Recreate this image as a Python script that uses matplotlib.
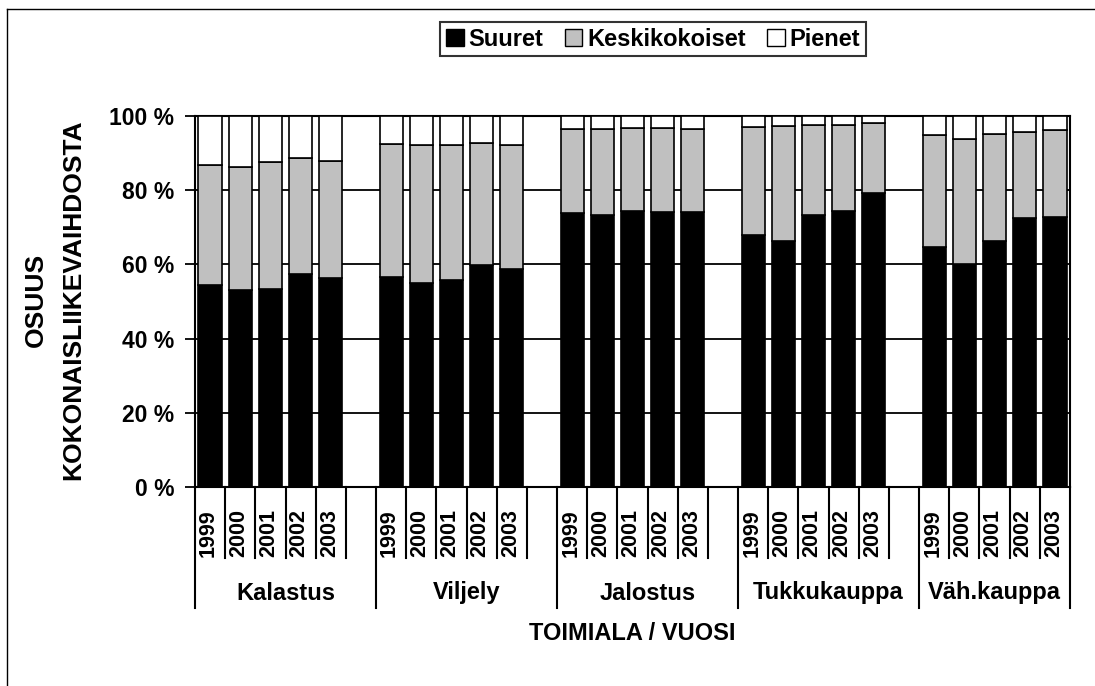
import matplotlib
matplotlib.use("Agg")
import matplotlib.pyplot as plt
from matplotlib.lines import Line2D
from matplotlib.transforms import blended_transform_factory
import numpy as np

plt.rcParams['font.family'] = ['Liberation Sans', 'DejaVu Sans']
plt.rcParams['font.weight'] = 'bold'

# toimialat ja vuodet
toimialat = ["Kalastus", "Viljely", "Jalostus", "Tukkukauppa", "Väh.kauppa"]
vuodet = ["1999", "2000", "2001", "2002", "2003"]

# osuudet (%) toimialoittain, vuodet 1999-2003
suuret = [
    [54.5, 53.2, 53.4, 57.5, 56.4],
    [56.7, 55.1, 55.9, 59.9, 58.8],
    [73.9, 73.4, 74.3, 74.2, 74.2],
    [67.8, 66.3, 73.4, 74.3, 79.3],
    [64.6, 60.1, 66.2, 72.6, 72.7],
]
keskikokoiset = [
    [32.3, 33.1, 34.1, 31.1, 31.6],
    [35.7, 37.0, 36.4, 32.9, 33.5],
    [22.5, 23.1, 22.5, 22.6, 22.4],
    [29.3, 31.0, 24.3, 23.3, 18.7],
    [30.3, 33.7, 28.9, 23.2, 23.5],
]
pienet = [
    [13.2, 13.7, 12.5, 11.4, 12.0],
    [7.6, 7.9, 7.7, 7.2, 7.7],
    [3.6, 3.5, 3.2, 3.2, 3.4],
    [2.9, 2.7, 2.3, 2.4, 2.0],
    [5.1, 6.2, 4.9, 4.2, 3.8],
]

fig = plt.figure(figsize=(10.95, 6.86), dpi=100)
W, H = 1095, 686
ax = fig.add_axes([195 / W, (H - 487) / H, (1070 - 195) / W, (487 - 116) / H])

# paikat: 5 palkkia + tyhjä väli jokaisen toimialan jälkeen (viimeistä lukuun ottamatta)
nv = len(vuodet)
paikat = []
for g in range(len(toimialat)):
    paikat.append([g * (nv + 1) + i for i in range(nv)])
nslots = len(toimialat) * (nv + 1) - 1

lw = 1.2
for g in range(len(toimialat)):
    x = paikat[g]
    s = np.array(suuret[g])
    k = np.array(keskikokoiset[g])
    p = np.array(pienet[g])
    ax.bar(x, s, width=0.77, color="black", edgecolor="black", linewidth=lw, zorder=3,
           label="Suuret" if g == 0 else None)
    ax.bar(x, k, bottom=s, width=0.77, color="#C0C0C0", edgecolor="black", linewidth=lw, zorder=3,
           label="Keskikokoiset" if g == 0 else None)
    ax.bar(x, p, bottom=s + k, width=0.77, color="white", edgecolor="black", linewidth=lw, zorder=3,
           label="Pienet" if g == 0 else None)

ax.set_xlim(-0.5, nslots - 0.5)
ax.set_ylim(0, 100)
ax.set_yticks([0, 20, 40, 60, 80, 100])
ax.set_yticklabels(["0 %", "20 %", "40 %", "60 %", "80 %", "100 %"], fontsize=16.5, fontweight="bold")
ax.tick_params(axis="y", length=7, width=1.3, pad=8, direction="out")
ax.set_xticks([])
ax.yaxis.grid(True, color="black", linewidth=1.3, zorder=1)
ax.set_axisbelow(True)
for sp in ax.spines.values():
    sp.set_linewidth(1.5)
    sp.set_color("black")

# monitasoinen x-akseli
tr = blended_transform_factory(ax.transData, ax.transAxes)
def yfr(ypx):
    return (487 - ypx) / (487 - 116)

for g in range(len(toimialat)):
    x = paikat[g]
    left = x[0] - 0.5
    right = x[-1] + 0.5 if g == len(toimialat) - 1 else x[-1] + 1.5
    ax.add_line(Line2D([left, left], [0, yfr(608)], transform=tr, color="black", lw=1.5, clip_on=False))
    for i, xi in enumerate(x):
        if i > 0:
            ax.add_line(Line2D([xi - 0.5, xi - 0.5], [0, yfr(558)], transform=tr, color="black",
                               lw=1.5, clip_on=False))
        ax.text(xi - 0.05, yfr(533), vuodet[i], transform=tr, rotation=90, ha="center", va="center",
                fontsize=15.5, fontweight="bold")
    if g < len(toimialat) - 1:
        ax.add_line(Line2D([x[-1] + 0.5] * 2, [0, yfr(558)], transform=tr, color="black",
                           lw=1.5, clip_on=False))
    else:
        ax.add_line(Line2D([right, right], [0, yfr(608)], transform=tr, color="black", lw=1.5, clip_on=False))
    ax.text((left + right) / 2, yfr(593), toimialat[g], transform=tr, ha="center", va="center",
            fontsize=17, fontweight="bold")

ax.text(0.5, yfr(633), "TOIMIALA / VUOSI", transform=ax.transAxes, ha="center", va="center",
        fontsize=17, fontweight="bold")

fig.text(36 / W, 1 - 300 / H, "OSUUS", rotation=90, ha="center", va="center", fontsize=19, fontweight="bold")
fig.text(73 / W, 1 - 300 / H, "KOKONAISLIIKEVAIHDOSTA", rotation=90, ha="center", va="center",
         fontsize=19, fontweight="bold")

leg = fig.legend(loc="center", bbox_to_anchor=(653 / W, 1 - 39 / H), ncol=3, frameon=True, fancybox=False,
                 edgecolor="black", handlelength=0.75, handleheight=0.75, handletextpad=0.2,
                 columnspacing=0.9, borderpad=0.25, borderaxespad=0,
                 prop={"size": 17, "weight": "bold"})
leg.get_frame().set_linewidth(1.5)
for hnd in leg.legend_handles:
    hnd.set_linewidth(1.0)

# kuvan reunaviivat (vasen ja ylä)
fig.add_artist(Line2D([7 / W, 7 / W], [0, 1 - 9 / H], color="black", lw=1.0, transform=fig.transFigure))
fig.add_artist(Line2D([7 / W, 1], [1 - 9 / H, 1 - 9 / H], color="black", lw=1.0, transform=fig.transFigure))

fig.savefig("out.png", dpi=100)
